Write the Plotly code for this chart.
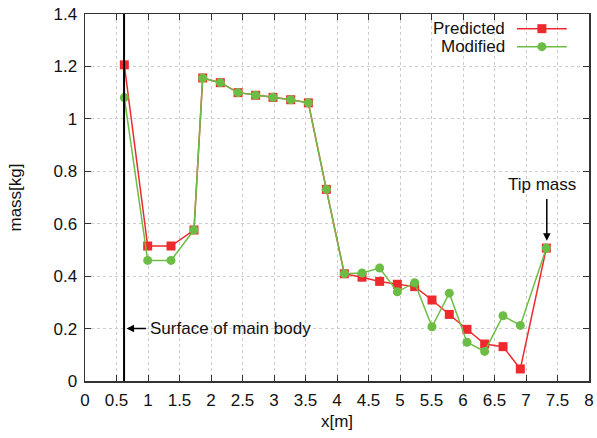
import plotly.graph_objects as go

# Data
x_pos = [0.624, 0.995, 1.365, 1.730, 1.868, 2.148, 2.430, 2.709, 2.984, 3.265, 3.545, 3.831,
         4.116, 4.397, 4.677, 4.958, 5.233, 5.508, 5.783, 6.063, 6.344, 6.635, 6.910, 7.323]
predicted = [1.206, 0.515, 0.515, 0.576, 1.156, 1.138, 1.100, 1.090, 1.082, 1.073, 1.061, 0.731,
             0.409, 0.396, 0.380, 0.369, 0.360, 0.309, 0.254, 0.197, 0.141, 0.131, 0.046, 0.507]
modified = [1.081, 0.460, 0.460, 0.576, 1.156, 1.138, 1.100, 1.090, 1.082, 1.073, 1.061, 0.731,
            0.409, 0.412, 0.431, 0.340, 0.375, 0.207, 0.335, 0.148, 0.113, 0.249, 0.212, 0.507]
series_names = ["Predicted", "Modified"]
surface_x = 0.62

RED = "#ee2a2e"
GREEN = "#6cbd45"
FONT = "Liberation Sans, Arial, sans-serif"
FS = 17

fig = go.Figure()
fig.add_trace(go.Scatter(x=x_pos, y=predicted, mode="lines+markers", name=series_names[0],
                         line=dict(color=RED, width=1.5),
                         marker=dict(symbol="square", size=9, color=RED)))
fig.add_trace(go.Scatter(x=x_pos, y=modified, mode="lines+markers", name=series_names[1],
                         line=dict(color=GREEN, width=1.5),
                         marker=dict(symbol="circle", size=9, color=GREEN)))

axis_common = dict(showline=True, linecolor="#333333", linewidth=1.5, mirror="ticks",
                   ticks="inside", ticklen=6, tickcolor="#333333", tickwidth=1,
                   showgrid=True, gridcolor="#cccccc", griddash="dot", gridwidth=1,
                   zeroline=False, ticklabelstandoff=3, ticklabeloverflow="allow",
                   automargin=False,
                   tickfont=dict(family=FONT, size=FS, color="#111111"))

fig.update_xaxes(range=[0, 8], dtick=0.5, tick0=0,
                 title=dict(text="x[m]", font=dict(family=FONT, size=FS, color="#111111"), standoff=6),
                 **axis_common)
fig.update_yaxes(range=[0, 1.4], dtick=0.2, tick0=0,
                 title=dict(text="mass[kg]", font=dict(family=FONT, size=FS, color="#111111"), standoff=27),
                 **axis_common)

shapes = [dict(type="line", xref="x", yref="paper", x0=surface_x, x1=surface_x, y0=0, y1=1,
               line=dict(color="black", width=2))]

# custom legend (text left of sample)
leg_x0, leg_x1 = 0.857, 0.956
leg_ys = [0.960, 0.911]
leg_cols = [RED, GREEN]
annotations = []
for name, ly, col, sym in zip(series_names, leg_ys, leg_cols, ["rect", "circle"]):
    shapes.append(dict(type="line", xref="paper", yref="paper", x0=leg_x0, x1=leg_x1, y0=ly, y1=ly,
                       line=dict(color=col, width=1.5)))
    xm = (leg_x0 + leg_x1) / 2
    shapes.append(dict(type=sym, xref="paper", yref="paper", xsizemode="pixel", ysizemode="pixel",
                       xanchor=xm, yanchor=ly, x0=-4.5, x1=4.5, y0=-4.5, y1=4.5,
                       fillcolor=col, line=dict(color=col, width=0)))
    annotations.append(dict(xref="paper", yref="paper", x=leg_x0 - 0.022, y=ly, text=name,
                            showarrow=False, xanchor="right", yanchor="middle", borderpad=0,
                            height=17, valign="middle",
                            font=dict(family=FONT, size=FS, color="#111111")))

# Surface of main body
annotations.append(dict(x=0.995, y=0.2, xref="x", yref="y", text="Surface of main body",
                        showarrow=False, xanchor="left", yanchor="middle",
                        font=dict(family=FONT, size=FS, color="#111111")))
annotations.append(dict(x=0.66, y=0.2, xref="x", yref="y", ax=0.99, ay=0.2, axref="x", ayref="y",
                        text="", showarrow=True, arrowhead=2, arrowsize=1, arrowwidth=1.5,
                        arrowcolor="black"))
# Tip mass
annotations.append(dict(x=7.25, y=0.748, xref="x", yref="y", text="Tip mass",
                        showarrow=False, xanchor="center", yanchor="middle",
                        font=dict(family=FONT, size=FS, color="#111111")))
annotations.append(dict(x=7.33, y=0.535, xref="x", yref="y", ax=7.33, ay=0.70, axref="x", ayref="y",
                        text="", showarrow=True, arrowhead=2, arrowsize=1, arrowwidth=1.5,
                        arrowcolor="black"))

fig.update_layout(width=597, height=438, margin=dict(l=85, r=8, t=14, b=57, autoexpand=False),
                  plot_bgcolor="white", paper_bgcolor="white", showlegend=False,
                  shapes=shapes, annotations=annotations,
                  font=dict(family=FONT, size=FS, color="#111111"))

fig.write_html("out.html", config={"displayModeBar": False, "staticPlot": True},
               post_script=("document.documentElement.style.overflow='hidden';"
                            "document.body.style.overflow='hidden';"
                            "document.body.style.margin='0px';"
                            "document.body.style.padding='0px';"))
